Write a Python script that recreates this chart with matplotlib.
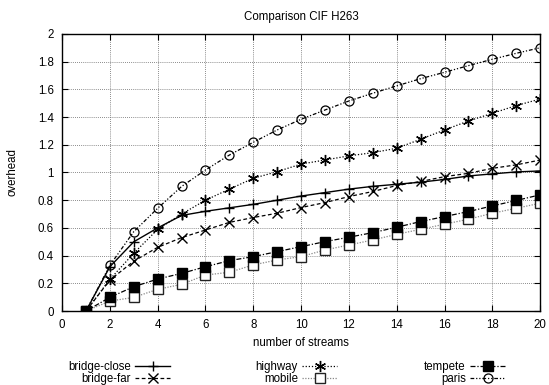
import matplotlib
matplotlib.use("Agg")
import matplotlib.pyplot as plt

plt.rcParams['font.family'] = ['Liberation Sans', 'DejaVu Sans']

streams = list(range(1, 21))
bridge_close = [0, 0.32, 0.50, 0.60, 0.69, 0.72, 0.745, 0.77, 0.80, 0.83, 0.855, 0.88, 0.90, 0.915, 0.93, 0.95, 0.975, 0.99, 1.004, 1.011]
bridge_far = [0, 0.224, 0.36, 0.46, 0.53, 0.585, 0.64, 0.675, 0.706, 0.747, 0.783, 0.826, 0.863, 0.906, 0.935, 0.97, 0.994, 1.03, 1.055, 1.09]
highway = [0, 0.229, 0.417, 0.59, 0.70, 0.80, 0.88, 0.958, 1.006, 1.061, 1.09, 1.12, 1.143, 1.175, 1.24, 1.307, 1.372, 1.427, 1.483, 1.53]
mobile = [0, 0.072, 0.099, 0.157, 0.193, 0.26, 0.28, 0.333, 0.369, 0.393, 0.441, 0.477, 0.513, 0.554, 0.59, 0.627, 0.663, 0.706, 0.742, 0.778]
tempete = [0, 0.099, 0.176, 0.231, 0.272, 0.32, 0.364, 0.393, 0.429, 0.465, 0.501, 0.533, 0.566, 0.605, 0.646, 0.682, 0.718, 0.759, 0.798, 0.839]
paris = [0, 0.33, 0.573, 0.742, 0.899, 1.018, 1.126, 1.218, 1.307, 1.384, 1.451, 1.516, 1.572, 1.625, 1.677, 1.723, 1.771, 1.817, 1.86, 1.90]

xticks = list(range(0, 21, 2))
yticks = [0, 0.2, 0.4, 0.6, 0.8, 1, 1.2, 1.4, 1.6, 1.8, 2]
ytick_labels = ['0', '0.2', '0.4', '0.6', '0.8', '1', '1.2', '1.4', '1.6', '1.8', '2']

fig = plt.figure(figsize=(5.49, 3.85), dpi=100)
ax = fig.add_axes([0.113, 0.192, 0.871, 0.720])

fs = 8.3
l1, = ax.plot(streams, bridge_close, color='black', lw=1.0, ls='-', marker='+', ms=7.5, mew=1.0, label='bridge-close')
l2, = ax.plot(streams, bridge_far, color='black', lw=0.9, ls=(0, (3, 2)), marker='x', ms=6.5, mew=1.0, label='bridge-far')
l3, = ax.plot(streams, highway, color='black', lw=0.9, ls=(0, (1, 1.5)), marker=(6, 2, 0), ms=8, mew=1.0, label='highway')
l4, = ax.plot(streams, mobile, color='#888888', lw=0.9, ls=(0, (1, 1.2)), marker='s', ms=6.5, mew=1.0, mfc='white', mec='#222222', label='mobile')
l5, = ax.plot(streams, tempete, color='black', lw=0.9, ls=(0, (4, 1.5, 1, 1.5)), marker='s', ms=7, mfc='black', mec='black', label='tempete')
l6, = ax.plot(streams, paris, color='black', lw=0.9, ls=(0, (3, 1.5, 1, 1.5, 1, 1.5)), marker='o', ms=6.5, mfc='none', mec='black', mew=0.9, label='paris')

ax.set_xlim(0, 20)
ax.set_ylim(0, 2)
ax.set_xticks(xticks)
ax.set_yticks(yticks)
ax.set_yticklabels(ytick_labels)
ax.grid(True, color='#666666', ls=(0, (1, 1.5)), lw=0.6)
ax.set_axisbelow(True)
ax.tick_params(direction='in', length=4, width=0.8, top=True, right=True, labelsize=fs, pad=6)
for s in ax.spines.values():
    s.set_linewidth(1.0)

ax.set_title('Comparison CIF H263', fontsize=fs, pad=10)
ax.set_xlabel('number of streams', fontsize=fs, labelpad=4)
ax.set_ylabel('overhead', fontsize=fs, labelpad=14)

groups = [([l1, l2], 170 / 549), ([l3, l4], 337 / 549), ([l5, l6], 505 / 549)]
for handles, xr in groups:
    fig.legend(handles=handles, loc='upper right', bbox_to_anchor=(xr, 24 / 385),
               bbox_transform=fig.transFigure, frameon=False, markerfirst=False,
               fontsize=fs, handlelength=3.0, handletextpad=0.4, labelspacing=0.0,
               borderpad=0.0, borderaxespad=0.0)

fig.savefig('out.png', dpi=100)
